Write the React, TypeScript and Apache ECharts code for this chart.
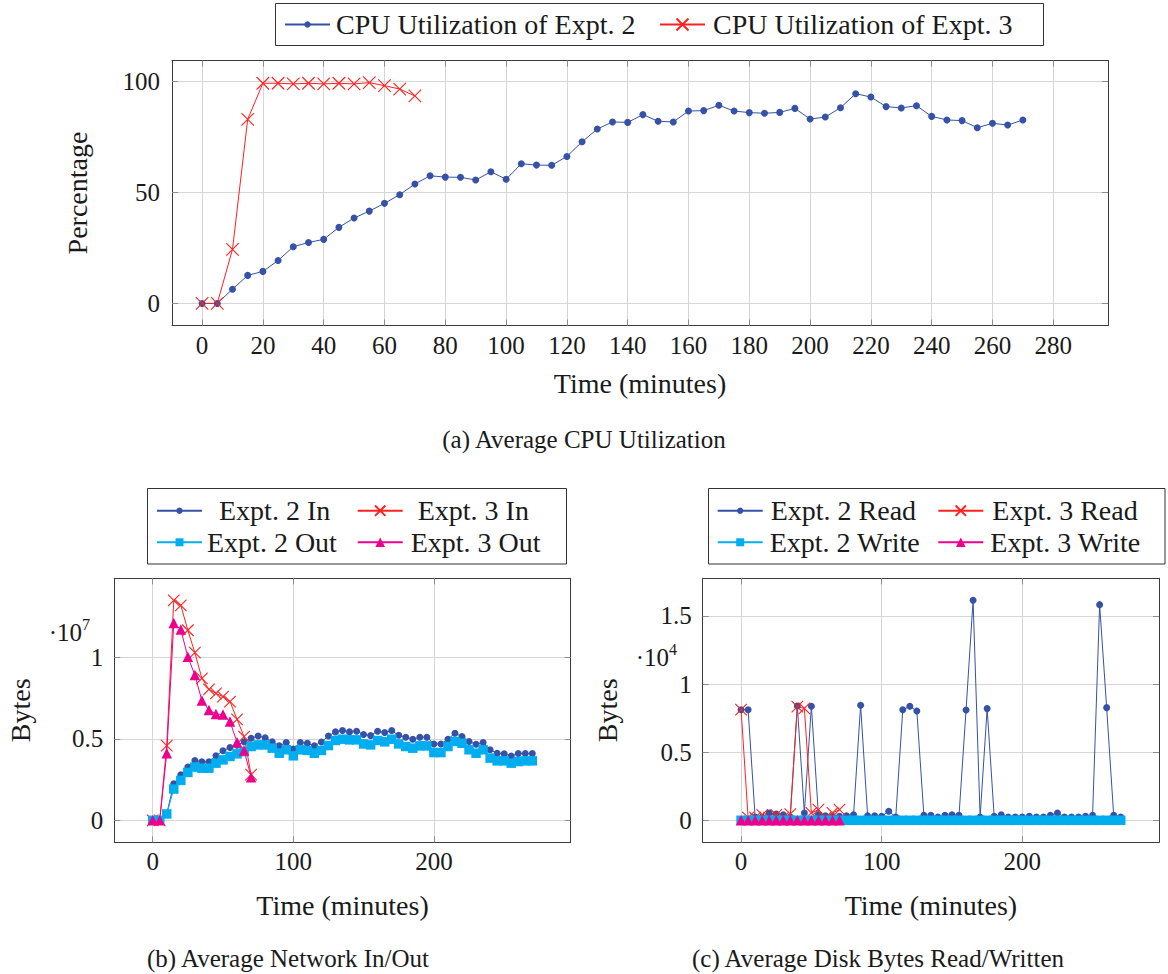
import React, { useEffect, useRef } from 'react';
import * as echarts from 'echarts';

// ---------- data ----------
const timeExpt2 = [0, 5, 10, 15, 20, 25, 30, 35, 40, 45, 50, 55, 60, 65, 70, 75, 80, 85, 90, 95, 100, 105, 110, 115, 120, 125, 130, 135, 140, 145, 150, 155, 160, 165, 170, 175, 180, 185, 190, 195, 200, 205, 210, 215, 220, 225, 230, 235, 240, 245, 250, 255, 260, 265, 270];
const timeExpt3 = [0, 5, 10, 15, 20, 25, 30, 35, 40, 45, 50, 55, 60, 65, 70];

const cpuExpt2 = [0, 0, 6.4, 12.6, 14.4, 19.3, 25.5, 27.4, 28.8, 34.2, 38.4, 41.5, 45.0, 48.9, 53.7, 57.4, 56.8, 56.7, 55.5, 59.2, 55.8, 62.8, 62.2, 62.1, 66.1, 72.7, 78.4, 81.6, 81.4, 84.9, 81.9, 81.6, 86.5, 86.7, 89.1, 86.5, 85.8, 85.5, 85.9, 87.7, 82.9, 83.8, 88.0, 94.3, 92.8, 88.5, 87.9, 88.9, 84.1, 82.5, 82.2, 79.0, 81.0, 80.2, 82.5];
const cpuExpt3 = [0, 0, 24.3, 82.8, 99.0, 99.0, 98.7, 99.0, 98.7, 99.0, 98.7, 99.3, 97.9, 96.4, 93.3];

const netInExpt2 = [0, 0, 0.04e7, 0.224e7, 0.28e7, 0.327e7, 0.367e7, 0.359e7, 0.359e7, 0.396e7, 0.427e7, 0.447e7, 0.461e7, 0.482e7, 0.504e7, 0.518e7, 0.506e7, 0.482e7, 0.457e7, 0.478e7, 0.437e7, 0.478e7, 0.473e7, 0.457e7, 0.481e7, 0.518e7, 0.543e7, 0.551e7, 0.543e7, 0.547e7, 0.527e7, 0.52e7, 0.547e7, 0.539e7, 0.551e7, 0.522e7, 0.51e7, 0.498e7, 0.51e7, 0.51e7, 0.469e7, 0.469e7, 0.498e7, 0.535e7, 0.514e7, 0.484e7, 0.467e7, 0.478e7, 0.433e7, 0.412e7, 0.408e7, 0.394e7, 0.41e7, 0.41e7, 0.41e7];
const netInExpt3 = [0, 0, 0.459e7, 1.351e7, 1.32e7, 1.167e7, 1.029e7, 0.871e7, 0.804e7, 0.78e7, 0.759e7, 0.729e7, 0.62e7, 0.514e7, 0.28e7];
const netOutExpt2 = [0, 0, 0.039e7, 0.192e7, 0.245e7, 0.294e7, 0.327e7, 0.32e7, 0.32e7, 0.351e7, 0.371e7, 0.392e7, 0.408e7, 0.422e7, 0.453e7, 0.463e7, 0.463e7, 0.443e7, 0.412e7, 0.433e7, 0.396e7, 0.433e7, 0.429e7, 0.412e7, 0.429e7, 0.459e7, 0.49e7, 0.498e7, 0.494e7, 0.494e7, 0.469e7, 0.463e7, 0.49e7, 0.482e7, 0.498e7, 0.469e7, 0.453e7, 0.443e7, 0.457e7, 0.457e7, 0.416e7, 0.416e7, 0.453e7, 0.484e7, 0.473e7, 0.433e7, 0.412e7, 0.433e7, 0.382e7, 0.365e7, 0.365e7, 0.351e7, 0.361e7, 0.365e7, 0.365e7];
const netOutExpt3 = [0, 0, 0.412e7, 1.212e7, 1.171e7, 1.004e7, 0.892e7, 0.735e7, 0.678e7, 0.653e7, 0.649e7, 0.606e7, 0.48e7, 0.429e7, 0.265e7];

const diskReadExpt2 = [8120, 8120, 240, 240, 540, 460, 410, 240, 8390, 540, 8370, 410, 340, 290, 290, 340, 410, 8440, 340, 340, 290, 660, 240, 8120, 8370, 8020, 370, 370, 240, 370, 410, 370, 8100, 16150, 240, 8200, 290, 410, 240, 240, 240, 290, 240, 240, 370, 540, 240, 240, 240, 290, 370, 15830, 8270, 370, 240];
const diskReadExpt3 = [8120, 200, 200, 400, 200, 400, 200, 460, 8340, 8220, 540, 780, 200, 540, 780];
const diskWriteExpt2 = [0, 0, 0, 0, 0, 0, 0, 0, 0, 0, 0, 0, 0, 0, 0, 0, 0, 0, 0, 0, 0, 0, 0, 0, 0, 0, 0, 0, 0, 0, 0, 0, 0, 0, 0, 0, 0, 0, 0, 0, 0, 0, 0, 0, 0, 0, 0, 0, 0, 0, 0, 0, 0, 0, 0];
const diskWriteExpt3 = [0, 0, 0, 0, 0, 0, 0, 0, 0, 0, 0, 0, 0, 0, 0];

const cpuXTicks = [0, 20, 40, 60, 80, 100, 120, 140, 160, 180, 200, 220, 240, 260, 280];
const cpuYTicks = [0, 50, 100];
const smallXTicks = [0, 100, 200];
const netYTicks = [0, 0.5e7, 1e7];
const diskYTicks = [0, 0.5e4, 1e4, 1.5e4];

// ---------- style ----------
const FONT = "'Liberation Serif', 'Times New Roman', serif";
const TXT = '#1a1a1a';
const GRIDC = '#d6d6d6';
const BOXC = '#3c3c3c';
const TICKC = '#8c8c8c';
const BLUE = '#3552a6';
const RED = '#ff2020';
const CYAN = '#00aeef';
const MAGENTA = '#ec008c';
const XPATH = 'path://M0,0L10,10M0,10L10,0';

const pairs = (t: number[], v: number[]) => t.map((x, i) => [x, v[i]]);

type Kind = 'dot' | 'x' | 'sq' | 'tri';
const markStyle: Record<Kind, any> = {
  dot: { color: BLUE, symbol: 'circle', size: 7 },
  x: { color: RED, symbol: XPATH, size: 11.5 },
  sq: { color: CYAN, symbol: 'rect', size: 9.5 },
  tri: { color: MAGENTA, symbol: 'triangle', size: 10.5 },
};

function series(name: string, data: number[][], grid: number, kind: Kind, big = false) {
  const m = markStyle[kind];
  return {
    type: 'line',
    name,
    data,
    xAxisIndex: grid * 2,
    yAxisIndex: grid * 2,
    symbol: m.symbol,
    symbolSize: kind === 'x' && big ? 12.5 : m.size,
    showSymbol: true,
    lineStyle: { color: m.color, width: 1 },
    itemStyle: kind === 'x'
      ? { color: m.color, borderColor: m.color, borderWidth: 1.1 }
      : { color: m.color, borderWidth: 0 },
    emphasis: { disabled: true },
    silent: true,
  };
}

function mainX(grid: number, min: number, max: number, ticks: number[], margin: number, nameGap: number, fmt?: (v: number) => string) {
  return {
    type: 'value', gridIndex: grid, position: 'bottom', min, max,
    name: 'Time (minutes)', nameLocation: 'middle', nameGap, nameMoveOverlap: false,
    nameTextStyle: { fontFamily: FONT, fontSize: 28, color: TXT },
    axisLine: { show: true, onZero: false, lineStyle: { color: BOXC, width: 1 } },
    axisTick: { show: true, inside: true, length: 6, customValues: ticks, lineStyle: { color: TICKC, width: 1 } },
    axisLabel: { show: true, customValues: ticks, margin, fontFamily: FONT, fontSize: 25, color: TXT, hideOverlap: false, formatter: fmt },
    splitLine: { show: true, lineStyle: { color: GRIDC, width: 1 } },
  };
}
function mirrorX(grid: number, min: number, max: number, ticks: number[]) {
  return {
    type: 'value', gridIndex: grid, position: 'top', min, max,
    axisLine: { show: true, onZero: false, lineStyle: { color: BOXC, width: 1 } },
    axisTick: { show: true, inside: true, length: 6, customValues: ticks, lineStyle: { color: TICKC, width: 1 } },
    axisLabel: { show: false, customValues: ticks },
    splitLine: { show: false },
  };
}
function mainY(grid: number, min: number, max: number, ticks: number[], name: string, nameGap: number, margin: number, fmt?: (v: number) => string) {
  return {
    type: 'value', gridIndex: grid, position: 'left', min, max,
    name, nameLocation: 'middle', nameGap, nameMoveOverlap: false,
    nameTextStyle: { fontFamily: FONT, fontSize: 28, color: TXT },
    axisLine: { show: true, onZero: false, lineStyle: { color: BOXC, width: 1 } },
    axisTick: { show: true, inside: true, length: 6, customValues: ticks, lineStyle: { color: TICKC, width: 1 } },
    axisLabel: { show: true, customValues: ticks, margin, fontFamily: FONT, fontSize: 25, color: TXT, hideOverlap: false, formatter: fmt },
    splitLine: { show: true, lineStyle: { color: GRIDC, width: 1 } },
  };
}
function mirrorY(grid: number, min: number, max: number, ticks: number[]) {
  return {
    type: 'value', gridIndex: grid, position: 'right', min, max,
    axisLine: { show: true, onZero: false, lineStyle: { color: BOXC, width: 1 } },
    axisTick: { show: true, inside: true, length: 6, customValues: ticks, lineStyle: { color: TICKC, width: 1 } },
    axisLabel: { show: false, customValues: ticks },
    splitLine: { show: false },
  };
}

function legendItem(name: string, left: number, centerY: number, itemHeight: number, padLeft: number) {
  return {
    data: [name],
    left,
    top: centerY - 14,
    orient: 'horizontal',
    itemWidth: 45,
    itemHeight,
    itemGap: 0,
    padding: 0,
    selectedMode: false,
    textStyle: { fontFamily: FONT, fontSize: 28, color: TXT, padding: [0, 0, 0, padLeft] },
  };
}

const scaled = (d: number) => (v: number) => (v === 0 ? '0' : String(Math.round((v / d) * 100) / 100));

export default function App() {
  const ref = useRef<HTMLDivElement>(null);
  useEffect(() => {
    if (!ref.current) return;
    const chart = echarts.init(ref.current, undefined, { renderer: 'svg' });
    const option: any = {
      animation: false,
      backgroundColor: '#ffffff',
      grid: [
        { left: 172, top: 60.5, width: 936, height: 265, outerBoundsMode: 'none', containLabel: false },
        { left: 114.3, top: 578.3, width: 456.4, height: 264, outerBoundsMode: 'none', containLabel: false },
        { left: 702.7, top: 578.3, width: 456.4, height: 264, outerBoundsMode: 'none', containLabel: false },
      ],
      xAxis: [
        mainX(0, -9.9, 298, cpuXTicks, 7, 44),
        mirrorX(0, -9.9, 298, cpuXTicks),
        mainX(1, -27.3, 297.3, smallXTicks, 7, 49),
        mirrorX(1, -27.3, 297.3, smallXTicks),
        mainX(2, -27.3, 297.3, smallXTicks, 7, 49),
        mirrorX(2, -27.3, 297.3, smallXTicks),
      ],
      yAxis: [
        mainY(0, -9.93, 109.23, cpuYTicks, 'Percentage', 81, 12),
        mirrorY(0, -9.93, 109.23, cpuYTicks),
        mainY(1, -0.1351e7, 1.4861e7, netYTicks, 'Bytes', 80, 11, scaled(1e7)),
        mirrorY(1, -0.1351e7, 1.4861e7, netYTicks),
        mainY(2, -0.1615e4, 1.7765e4, diskYTicks, 'Bytes', 81, 11, scaled(1e4)),
        mirrorY(2, -0.1615e4, 1.7765e4, diskYTicks),
      ],
      legend: [
        legendItem('CPU Utilization of Expt. 2', 284, 24.5, 8, 1),
        legendItem('CPU Utilization of Expt. 3', 659, 24.5, 15, 3),
        legendItem('Expt. 2 In', 156, 510.7, 8, 12),
        legendItem('Expt. 3 In', 356.7, 510.7, 13, 10),
        legendItem('Expt. 2 Out', 156, 542.3, 10, 0),
        legendItem('Expt. 3 Out', 356.7, 542.3, 12, 3),
        legendItem('Expt. 2 Read', 716.7, 510.7, 8, 3),
        legendItem('Expt. 3 Read', 937.3, 510.7, 13, 4),
        legendItem('Expt. 2 Write', 716.7, 542.3, 10, 2),
        legendItem('Expt. 3 Write', 937.3, 542.3, 12, 2),
      ],
      series: [
        series('CPU Utilization of Expt. 2', pairs(timeExpt2, cpuExpt2), 0, 'dot'),
        series('CPU Utilization of Expt. 3', pairs(timeExpt3, cpuExpt3), 0, 'x', true),
        series('Expt. 2 In', pairs(timeExpt2, netInExpt2), 1, 'dot'),
        series('Expt. 3 In', pairs(timeExpt3, netInExpt3), 1, 'x'),
        series('Expt. 2 Out', pairs(timeExpt2, netOutExpt2), 1, 'sq'),
        series('Expt. 3 Out', pairs(timeExpt3, netOutExpt3), 1, 'tri'),
        series('Expt. 2 Read', pairs(timeExpt2, diskReadExpt2), 2, 'dot'),
        series('Expt. 3 Read', pairs(timeExpt3, diskReadExpt3), 2, 'x'),
        series('Expt. 2 Write', pairs(timeExpt2, diskWriteExpt2), 2, 'sq'),
        series('Expt. 3 Write', pairs(timeExpt3, diskWriteExpt3), 2, 'tri'),
      ],
      graphic: [
        { type: 'rect', silent: true, shape: { x: 275.5, y: 3.5, width: 768, height: 42 }, style: { fill: 'none', stroke: '#333', lineWidth: 1 } },
        { type: 'rect', silent: true, shape: { x: 147.5, y: 488.5, width: 419, height: 75.5 }, style: { fill: 'none', stroke: '#333', lineWidth: 1 } },
        { type: 'rect', silent: true, shape: { x: 708.5, y: 488.5, width: 456.5, height: 75.5 }, style: { fill: 'none', stroke: '#333', lineWidth: 1 } },
        { type: 'text', silent: true, x: 82, y: 632, style: { text: '·10', fontFamily: FONT, fontSize: 25, fill: TXT, align: 'right', verticalAlign: 'middle' } },
        { type: 'text', silent: true, x: 82, y: 624, style: { text: '7', fontFamily: FONT, fontSize: 16, fill: TXT, align: 'left', verticalAlign: 'middle' } },
        { type: 'text', silent: true, x: 669, y: 657, style: { text: '·10', fontFamily: FONT, fontSize: 25, fill: TXT, align: 'right', verticalAlign: 'middle' } },
        { type: 'text', silent: true, x: 669, y: 649, style: { text: '4', fontFamily: FONT, fontSize: 16, fill: TXT, align: 'left', verticalAlign: 'middle' } },
        { type: 'text', silent: true, x: 584, y: 439, style: { text: '(a) Average CPU Utilization', fontFamily: FONT, fontSize: 25, fill: TXT, align: 'center', verticalAlign: 'middle' } },
        { type: 'text', silent: true, x: 288, y: 958, style: { text: '(b) Average Network In/Out', fontFamily: FONT, fontSize: 25, fill: TXT, align: 'center', verticalAlign: 'middle' } },
        { type: 'text', silent: true, x: 878, y: 958, style: { text: '(c) Average Disk Bytes Read/Written', fontFamily: FONT, fontSize: 25, fill: TXT, align: 'center', verticalAlign: 'middle' } },
      ],
    };
    chart.setOption(option);
    return () => chart.dispose();
  }, []);
  return (
    <div
      ref={ref}
      style={{ position: 'absolute', left: 0, top: 0, width: 1168, height: 974, background: '#fff' }}
    />
  );
}
